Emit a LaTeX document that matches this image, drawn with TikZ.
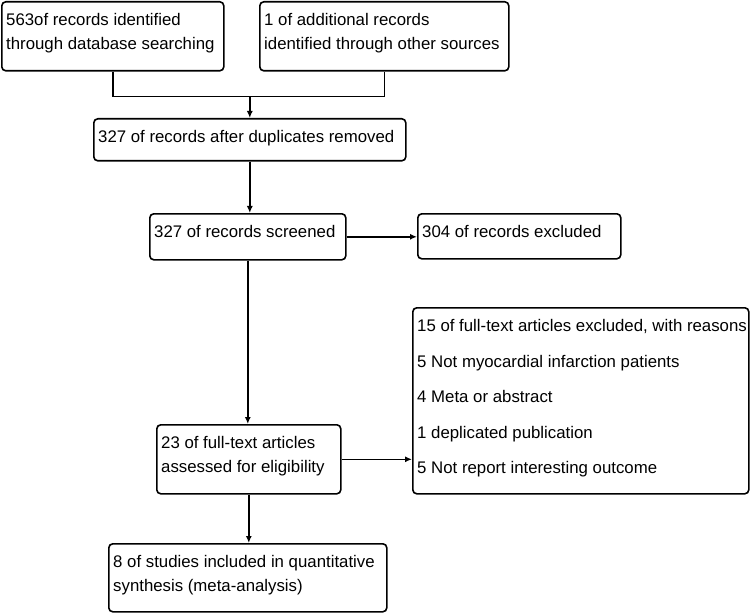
\documentclass[tikz,border=0pt]{standalone}
\usepackage{fontspec}
\setmainfont{Liberation Sans}
\usetikzlibrary{arrows.meta}
\tikzstyle{flowBoxStyle} = [draw=black, line width=1.6bp, rounded corners=4bp, inner sep=0pt]
\tikzstyle{flowText} = [anchor=north west, align=left, inner xsep=5bp, inner ysep=12.5bp, font=\fontsize{16.8bp}{23.5bp}\selectfont]
\tikzstyle{flowLine} = [line width=1.5bp]
\tikzstyle{flowArrow} = [flowLine, -{Latex[length=7bp,width=6bp]}]
\newcommand{\flowBox}[6]{
  \node [flowBoxStyle, minimum width=#4bp, minimum height=#5bp, anchor=north west] (#1) at (#2,#3) {};
  \node [flowText] (#1Text) at (#1.north west) {#6};
}
\begin{document}
\begin{tikzpicture}[x=1bp, y=-1bp]
  \useasboundingbox (0,0) rectangle (750,613);
  \flowBox{searched}{1}{1}{222}{69}{563of records identified\\through database searching}
  \flowBox{other}{259}{1}{249}{69}{1 of additional records\\identified through other sources}
  \flowBox{dedup}{93}{118}{312}{42}{327 of records after duplicates removed}
  \flowBox{screened}{149}{213}{196}{46}{327 of records screened}
  \flowBox{excluded}{417}{213}{203}{45}{304 of records excluded}
  \flowBox{fullExcluded}{412}{307}{336}{186}{15 of full-text articles excluded, with reasons\\[12bp]5 Not myocardial infarction patients\\[12bp]4 Meta or abstract\\[12bp]1 deplicated publication\\[12bp]5 Not report interesting outcome}
  \flowBox{assessed}{156}{424}{184}{69}{23 of full-text articles\\assessed for eligibility}
  \flowBox{included}{108}{543}{278}{68}{8 of studies included in quantitative\\synthesis (meta-analysis)}
  % connectors
  \coordinate (joinLeft) at ([yshift=-25bp]searched.south);
  \draw [flowLine] (searched.south) -- (joinLeft) -| (other.south);
  \draw [flowArrow] (joinLeft -| dedup.north) -- (dedup.north);
  \draw [flowArrow] (dedup.south) -- (dedup.south |- screened.north);
  \draw [flowArrow] (screened.east) -- (screened.east -| excluded.west);
  \draw [flowArrow] (screened.south) -- (screened.south |- assessed.north);
  \draw [flowArrow] (assessed.east) -- (assessed.east -| fullExcluded.west);
  \draw [flowArrow] (assessed.south) -- (assessed.south |- included.north);
\end{tikzpicture}
\end{document}
